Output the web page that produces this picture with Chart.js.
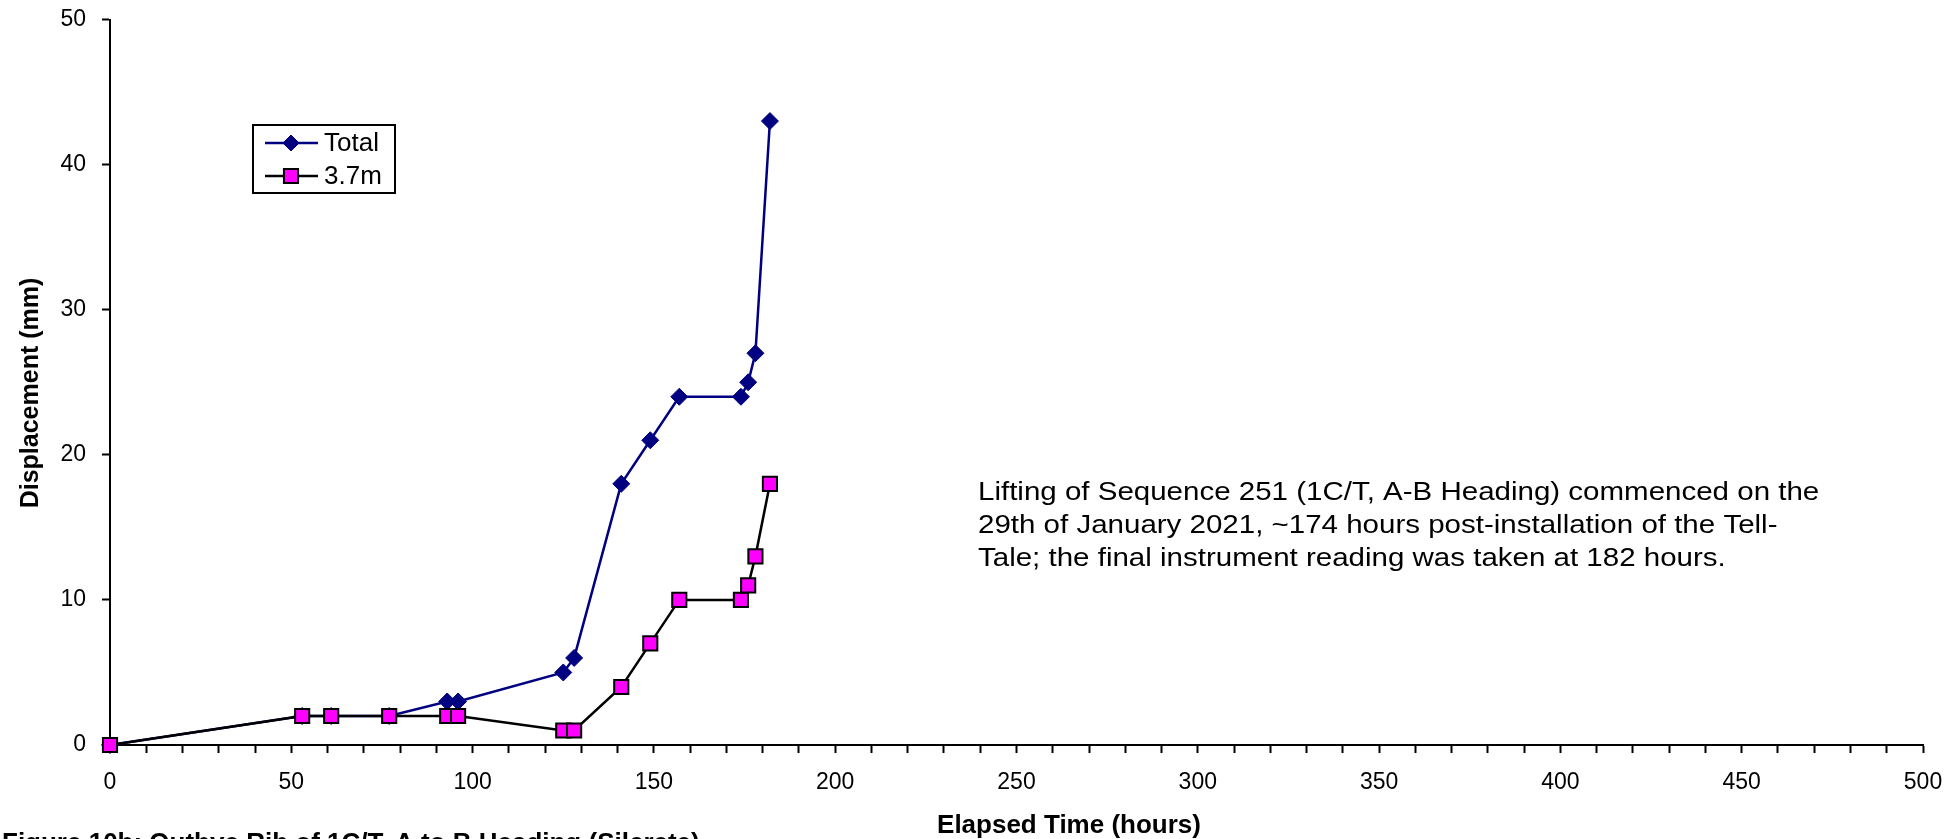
<!DOCTYPE html>
<html>
<head>
<meta charset="utf-8">
<script src="https://cdn.jsdelivr.net/npm/chart.js@4.4.0/dist/chart.umd.min.js"></script>
<style>
  html, body { margin: 0; padding: 0; background: #fff; }
  #wrap { width: 1949px; height: 839px; }
</style>
</head>
<body>
<div id="wrap"><canvas id="chart" width="1949" height="839"></canvas></div>
<script>
// Elapsed time (hours) of each reading
const horas = [0, 53, 61, 77, 93, 96, 125, 128, 141, 149, 157, 174, 176, 178, 182];
// Displacement (mm)
const total = [0, 2, 2, 2, 3, 3, 5, 6, 18, 21, 24, 24, 25, 27, 43];
const nivel37 = [0, 2, 2, 2, 2, 2, 1, 1, 4, 7, 10, 10, 11, 13, 18];

const nombresSeries = ['Total', '3.7m'];
const tituloY = 'Displacement (mm)';
const tituloX = 'Elapsed Time (hours)';
const leyenda = 'Figure 10b: Outbye Rib of 1C/T, A to B Heading (Silcrete)';
const nota = [
    'Lifting of Sequence 251 (1C/T, A-B Heading) commenced on the',
    '29th of January 2021, ~174 hours post-installation of the Tell-',
    'Tale; the final instrument reading was taken at 182 hours.'
];

const FUENTE = "'Liberation Sans', Arial, sans-serif";
const AZUL = '#000080';
const MAGENTA = '#FF00FF';

const aPuntos = (ys) => horas.map((h, i) => ({ x: h, y: ys[i] }));

// ── Textos y leyenda dibujados a mano ──────────────────────
const textosPlugin = {
    id: 'textos',
    afterDraw(chart) {
        const ctx = chart.ctx;
        ctx.save();
        ctx.fillStyle = '#000';

        // título eje Y (rotado)
        ctx.save();
        ctx.translate(38, 393);
        ctx.rotate(-Math.PI / 2);
        ctx.font = `bold 25px ${FUENTE}`;
        ctx.textAlign = 'center';
        ctx.textBaseline = 'alphabetic';
        ctx.fillText(tituloY, 0, 0);
        ctx.restore();

        // título eje X
        ctx.font = `bold 26px ${FUENTE}`;
        ctx.textAlign = 'center';
        ctx.textBaseline = 'alphabetic';
        ctx.fillText(tituloX, 1069, 833);

        // pie de figura (cortado abajo)
        ctx.textAlign = 'left';
        ctx.fillText(leyenda, 2, 851);

        // nota (texto algo ensanchado, como en el original)
        ctx.save();
        ctx.translate(978, 0);
        ctx.scale(1.18, 1);
        ctx.font = `25px ${FUENTE}`;
        ctx.textBaseline = 'middle';
        [493, 526, 559].forEach((y, i) => ctx.fillText(nota[i], 0, y));
        ctx.restore();

        // leyenda
        ctx.lineWidth = 2;
        ctx.strokeStyle = '#000';
        ctx.strokeRect(253, 125, 142, 68);
        const filas = [
            { y: 143, color: AZUL, estilo: 'rectRot', radio: 8, fondo: AZUL, borde: AZUL, bw: 1 },
            { y: 176, color: '#000', estilo: 'rect', radio: 10, fondo: MAGENTA, borde: '#000', bw: 2 }
        ];
        filas.forEach((f, i) => {
            ctx.strokeStyle = f.color;
            ctx.lineWidth = 2.5;
            ctx.beginPath();
            ctx.moveTo(265, f.y);
            ctx.lineTo(318, f.y);
            ctx.stroke();
            ctx.fillStyle = f.fondo;
            ctx.strokeStyle = f.borde;
            ctx.lineWidth = f.bw;
            Chart.helpers.drawPoint(ctx, { pointStyle: f.estilo, radius: f.radio, borderWidth: f.bw }, 291, f.y);
            ctx.fillStyle = '#000';
            ctx.font = `26px ${FUENTE}`;
            ctx.textAlign = 'left';
            ctx.textBaseline = 'middle';
            ctx.fillText(nombresSeries[i], 324, f.y + 1);
        });
        ctx.restore();
    }
};

new Chart(document.getElementById('chart'), {
    type: 'line',
    data: {
        datasets: [
            {
                label: nombresSeries[0],
                data: aPuntos(total),
                borderColor: AZUL,
                borderWidth: 2.5,
                backgroundColor: AZUL,
                pointStyle: 'rectRot',
                pointRadius: 8.5,
                pointBorderWidth: 1,
                pointBorderColor: AZUL,
                pointBackgroundColor: AZUL,
                tension: 0,
                clip: false,
                order: 1
            },
            {
                label: nombresSeries[1],
                data: aPuntos(nivel37),
                borderColor: '#000',
                borderWidth: 2.5,
                backgroundColor: MAGENTA,
                pointStyle: 'rect',
                pointRadius: 10,
                pointBorderWidth: 2,
                pointBorderColor: '#000',
                pointBackgroundColor: MAGENTA,
                tension: 0,
                clip: false,
                order: 0
            }
        ]
    },
    options: {
        responsive: false,
        animation: false,
        events: [],
        layout: { padding: { top: 19.5, right: 26, bottom: 0, left: 0 } },
        plugins: {
            legend: { display: false },
            tooltip: { enabled: false },
            title: { display: false }
        },
        scales: {
            x: {
                type: 'linear',
                min: 0,
                max: 500,
                afterFit: s => { s.height = 94; s.paddingLeft = 0; s.paddingRight = 0; },
                border: { color: '#000', width: 2 },
                grid: {
                    drawOnChartArea: false,
                    drawTicks: true,
                    tickLength: 8,
                    tickColor: '#000',
                    tickWidth: 2
                },
                ticks: {
                    stepSize: 10,
                    autoSkip: false,
                    maxRotation: 0,
                    padding: 16,
                    color: '#000',
                    font: { family: FUENTE, size: 23 },
                    callback: v => (v % 50 === 0 ? v : '')
                }
            },
            y: {
                min: 0,
                max: 50,
                afterFit: s => { s.width = 110; s.paddingTop = 0; s.paddingBottom = 0; },
                border: { color: '#000', width: 2 },
                grid: {
                    drawOnChartArea: false,
                    drawTicks: true,
                    tickLength: 8,
                    tickColor: '#000',
                    tickWidth: 2
                },
                ticks: {
                    stepSize: 10,
                    padding: 16,
                    color: '#000',
                    font: { family: FUENTE, size: 23 }
                }
            }
        }
    },
    plugins: [textosPlugin]
});
</script>
</body>
</html>
